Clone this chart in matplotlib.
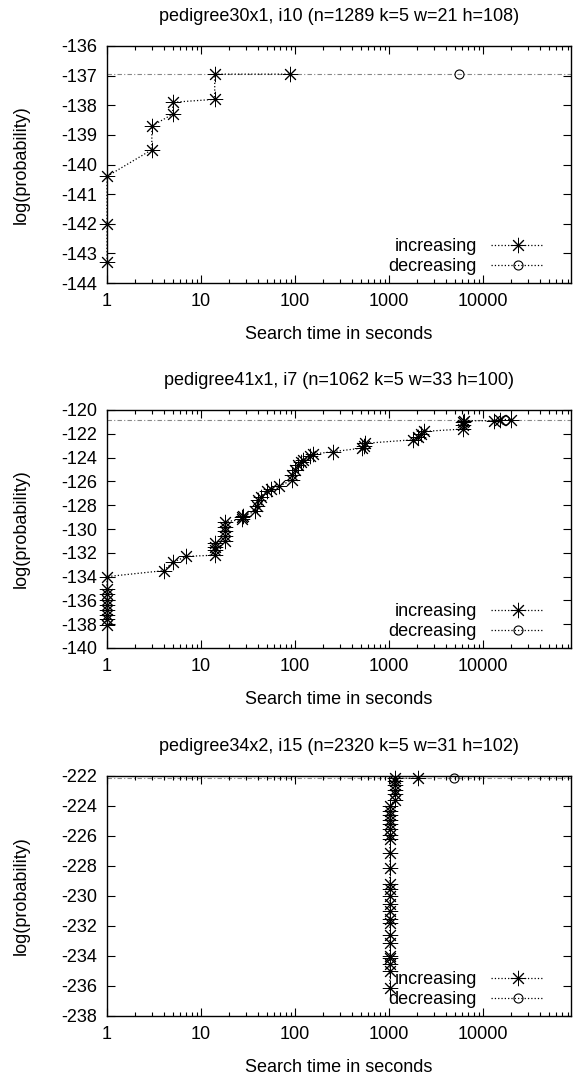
import matplotlib
matplotlib.use("Agg")
import matplotlib.pyplot as plt
from matplotlib.ticker import LogLocator, FixedLocator, NullFormatter

plt.rcParams['font.family'] = ['Liberation Sans', 'DejaVu Sans']
plt.rcParams['font.size'] = 13

# ---- panel 1: pedigree30x1 ----
titles = [
    "pedigree30x1, i10 (n=1289 k=5 w=21 h=108)",
    "pedigree41x1, i7 (n=1062 k=5 w=33 h=100)",
    "pedigree34x2, i15 (n=2320 k=5 w=31 h=102)",
]

inc1_t = [1, 1, 1, 3, 3, 5, 5, 14, 14, 88]
inc1_v = [-143.3, -142.0, -140.4, -139.5, -138.7, -138.3, -137.9, -137.8, -136.95, -136.95]
dec1_t = [5600]
dec1_v = [-136.95]
best1 = -136.95

# ---- panel 2: pedigree41x1 ----
inc2_t = [1, 1, 1, 1, 1, 1, 1, 1, 1,
          4, 5, 7, 14, 14, 14, 14, 18, 18, 18, 18, 18,
          27, 27, 28, 38, 39, 40, 43, 50, 56, 68, 92, 92, 100, 108, 115, 122,
          145, 156, 255, 520, 540, 560, 1800, 2050, 2200, 2350,
          6100, 6100, 6100, 6300, 13000, 15000, 20000]
inc2_v = [-138.1, -137.6, -137.2, -136.8, -136.4, -136.0, -135.5, -135.0, -134.0,
          -133.5, -132.8, -132.3, -132.2, -131.8, -131.5, -131.2, -131.0, -130.6, -130.2, -129.8, -129.4,
          -129.2, -129.0, -128.9, -128.5, -128.1, -127.6, -127.3, -126.8, -126.6, -126.4, -125.9, -125.5,
          -125.0, -124.6, -124.4, -124.2, -123.9, -123.7, -123.5, -123.2, -123.0, -122.8, -122.5, -122.3,
          -122.0, -121.8, -121.6, -121.3, -121.0, -120.9, -120.9, -120.8, -120.8]
dec2_t = [17000]
dec2_v = [-120.8]
best2 = -120.8

# ---- panel 3: pedigree34x2 ----
inc3_t = [1020] * 24 + [1150] * 6 + [2050]
inc3_v = [-236.1, -235.0, -234.5, -234.1, -234.0, -233.1, -232.6, -231.8, -231.5, -231.0,
          -230.5, -230.0, -229.5, -229.2, -228.1, -227.1, -226.2, -225.9, -225.5, -225.2,
          -224.9, -224.6, -224.3, -224.0,
          -223.6, -223.2, -222.9, -222.6, -222.3, -222.15,
          -222.15]
dec3_t = [4950]
dec3_v = [-222.15]
best3 = -222.15

panels = [
    (inc1_t, inc1_v, dec1_t, dec1_v, best1, (-144, -136), list(range(-144, -135, 1))),
    (inc2_t, inc2_v, dec2_t, dec2_v, best2, (-140, -120), list(range(-140, -119, 2))),
    (inc3_t, inc3_v, dec3_t, dec3_v, best3, (-238, -222), list(range(-238, -221, 2))),
]

fig = plt.figure(figsize=(5.74, 10.77), dpi=100)
rects = [
    [107 / 574, 1 - 283 / 1077, 464 / 574, 237 / 1077],
    [107 / 574, 1 - 648 / 1077, 464 / 574, 238 / 1077],
    [107 / 574, 1 - 1016 / 1077, 464 / 574, 240 / 1077],
]

star = (8, 2, 0)
fs = 13
for i, (it, iv, dt, dv, best, ylim, yt) in enumerate(panels):
    ax = fig.add_axes(rects[i])
    ax.axhline(best, color='#888888', lw=0.8, ls=(0, (4, 2, 1, 2)), zorder=1)
    ax.plot(it, iv, color='black', ls=':', lw=0.9, marker=star, ms=11, mew=0.7,
            label='increasing', zorder=3, clip_on=False)
    ax.plot(dt, dv, color='black', ls=':', lw=0.9, marker='o', ms=6.5, mew=0.8,
            mfc='none', label='decreasing', zorder=3, clip_on=False)
    ax.set_xscale('log')
    ax.set_xlim(1, 86400)
    ax.set_ylim(*ylim)
    ax.xaxis.set_major_locator(FixedLocator([1, 10, 100, 1000, 10000]))
    ax.set_xticklabels(['1', '10', '100', '1000', '10000'])
    ax.xaxis.set_minor_locator(LogLocator(base=10, subs=range(2, 10), numticks=20))
    ax.xaxis.set_minor_formatter(NullFormatter())
    ax.set_yticks(yt)
    ax.set_yticklabels([str(v) for v in yt])
    ax.tick_params(which='both', direction='in', top=True, right=True, labelsize=fs)
    ax.tick_params(which='major', length=6, width=0.8, pad=7)
    ax.tick_params(which='minor', length=3, width=0.8)
    for s in ax.spines.values():
        s.set_linewidth(1.0)
    ax.set_title(titles[i], fontsize=fs, pad=18)
    ax.set_xlabel('Search time in seconds', fontsize=fs, labelpad=12)
    ax.set_ylabel('log(probability)', fontsize=fs, labelpad=23)
    ax.legend(loc='lower right', bbox_to_anchor=(0.959, 0.0), frameon=False,
              markerfirst=False, handlelength=2.9, fontsize=fs, borderaxespad=0,
              borderpad=0.45, labelspacing=0.15, handletextpad=0.8)

fig.savefig('out.png', dpi=100)
